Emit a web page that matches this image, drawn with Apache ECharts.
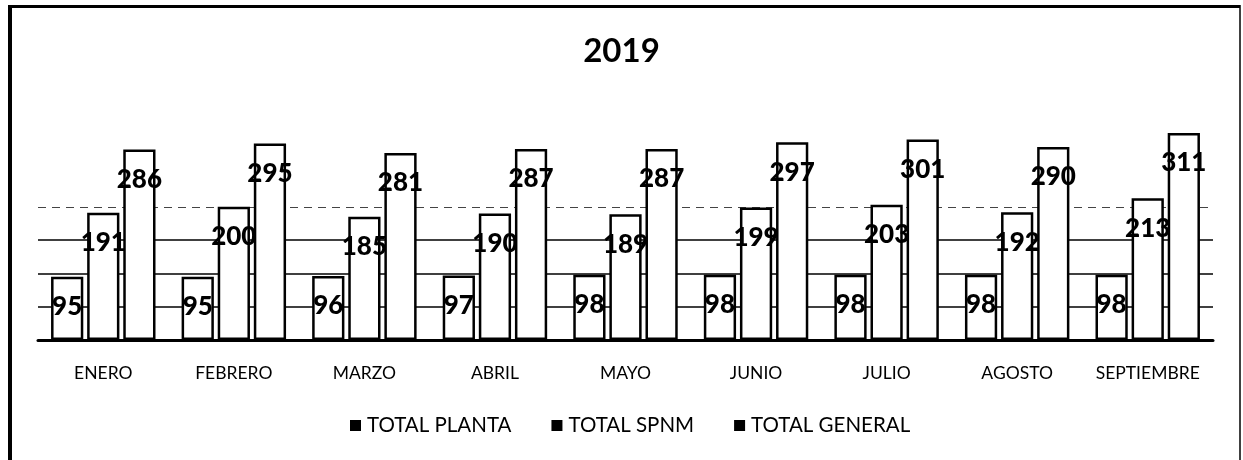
<!DOCTYPE html>
<html>
<head>
<meta charset="utf-8">
<title>2019</title>
<script src="https://cdn.jsdelivr.net/npm/echarts@6/dist/echarts.min.js"></script>
<style>
  html, body { margin: 0; padding: 0; background: #ffffff; }
  #chart { width: 1243px; height: 460px; }
</style>
</head>
<body>
<div id="chart"></div>
<script>
// Monthly totals for 2019
const months = ['ENERO', 'FEBRERO', 'MARZO', 'ABRIL', 'MAYO', 'JUNIO', 'JULIO', 'AGOSTO', 'SEPTIEMBRE'];
const totalPlanta = [95, 95, 96, 97, 98, 98, 98, 98, 98];
const totalSpnm = [191, 200, 185, 190, 189, 199, 203, 192, 213];
const totalGeneral = [286, 295, 281, 287, 287, 297, 301, 290, 311];
const seriesNames = ['TOTAL PLANTA', 'TOTAL SPNM', 'TOTAL GENERAL'];
const gridValues = [50, 100, 150, 200];

const FONT = 'Lato, "Open Sans", sans-serif';

const chart = echarts.init(document.getElementById('chart'), null, { renderer: 'canvas' });

function barSeries(name, data, withLines) {
  const s = {
    name: name,
    type: 'bar',
    data: data,
    barGap: '12%',
    barCategoryGap: '20%',
    z: 3,
    itemStyle: {
      color: '#ffffff',
      borderColor: '#000000',
      borderWidth: 2.5
    },
    label: {
      show: true,
      position: 'insideTop',
      distance: 17,
      color: '#000000',
      fontFamily: FONT,
      fontWeight: 900,
      fontSize: 26
    },
    emphasis: { disabled: true }
  };
  if (withLines) {
    s.markLine = {
      silent: true,
      symbol: 'none',
      z: 1,
      label: { show: false },
      data: gridValues.map(v => ({
        yAxis: v,
        lineStyle: v === 200
          ? { color: '#444444', width: 1.2, type: [8, 6] }
          : { color: '#000000', width: 1.5, type: 'solid' }
      }))
    };
  }
  return s;
}

chart.setOption({
  backgroundColor: '#ffffff',
  animation: false,
  title: {
    text: '2019',
    left: 'center',
    top: 30,
    textStyle: { fontFamily: FONT, fontWeight: 'bold', fontSize: 33, color: '#000000' }
  },
  legend: {
    data: seriesNames,
    bottom: 19,
    left: 345,
    itemWidth: 11,
    itemHeight: 11,
    itemGap: 40,
    icon: 'rect',
    itemStyle: { color: '#000000', borderWidth: 0 },
    textStyle: { fontFamily: FONT, fontSize: 20.5, color: '#000000', padding: [0, 0, 0, 1] }
  },
  grid: { left: 38, right: 30, top: 107, bottom: 120 },
  xAxis: {
    type: 'category',
    data: months,
    axisLine: { lineStyle: { color: '#000000', width: 3 } },
    axisTick: { show: false },
    axisLabel: { fontFamily: FONT, fontSize: 17.5, color: '#000000', margin: 24, interval: 0 }
  },
  yAxis: {
    type: 'value',
    min: 0,
    max: 350,
    interval: 50,
    axisLine: { show: false },
    axisTick: { show: false },
    axisLabel: { show: false },
    splitLine: { show: false }
  },
  series: [
    barSeries(seriesNames[0], totalPlanta, true),
    barSeries(seriesNames[1], totalSpnm, false),
    barSeries(seriesNames[2], totalGeneral, false)
  ],
  graphic: [
    // outer frame: heavy left and top edges, thin right edge
    { type: 'line', shape: { x1: 10, y1: 6, x2: 10, y2: 460 }, style: { stroke: '#000', lineWidth: 4 } },
    { type: 'line', shape: { x1: 8, y1: 6.5, x2: 1240, y2: 6.5 }, style: { stroke: '#000', lineWidth: 3 } },
    { type: 'line', shape: { x1: 1240, y1: 5, x2: 1240, y2: 460 }, style: { stroke: '#000', lineWidth: 1.5 } }
  ]
});
</script>
</body>
</html>
